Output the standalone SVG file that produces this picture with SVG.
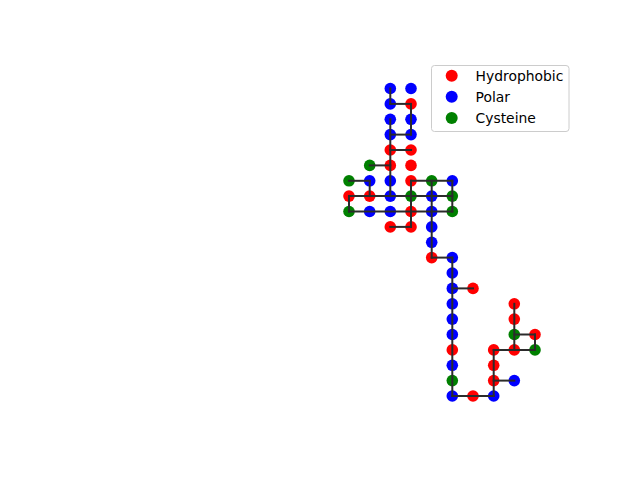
<svg xmlns="http://www.w3.org/2000/svg" width="640" height="480" viewBox="0 0 640 480">
<style>
.h{fill:#ff0000}.p{fill:#0000ff}.c{fill:#008000}
#connectors line{stroke:#2b2b2b;stroke-width:2;stroke-linecap:square}
.lt{font-family:"DejaVu Sans",sans-serif;font-size:13.9px;fill:#000}
</style>
<rect width="640" height="480" fill="#fff"/>
<g id="nodes">
<g id="n1"><circle class="p" cx="390.3" cy="88.5" r="5.8"/></g>
<g id="n2"><circle class="p" cx="411" cy="88.5" r="5.8"/></g>
<g id="n3"><circle class="p" cx="390.3" cy="103.9" r="5.8"/></g>
<g id="n4"><circle class="h" cx="411" cy="103.9" r="5.8"/></g>
<g id="n5"><circle class="p" cx="390.3" cy="119.3" r="5.8"/></g>
<g id="n6"><circle class="p" cx="411" cy="119.3" r="5.8"/></g>
<g id="n7"><circle class="p" cx="390.3" cy="134.6" r="5.8"/></g>
<g id="n8"><circle class="p" cx="411" cy="134.6" r="5.8"/></g>
<g id="n9"><circle class="h" cx="390.3" cy="150" r="5.8"/></g>
<g id="n10"><circle class="h" cx="411" cy="150" r="5.8"/></g>
<g id="n11"><circle class="c" cx="369.7" cy="165.4" r="5.8"/></g>
<g id="n12"><circle class="h" cx="390.3" cy="165.4" r="5.8"/></g>
<g id="n13"><circle class="h" cx="411" cy="165.4" r="5.8"/></g>
<g id="n14"><circle class="c" cx="349" cy="180.8" r="5.8"/></g>
<g id="n15"><circle class="p" cx="369.7" cy="180.8" r="5.8"/></g>
<g id="n16"><circle class="p" cx="390.3" cy="180.8" r="5.8"/></g>
<g id="n17"><circle class="h" cx="411" cy="180.8" r="5.8"/></g>
<g id="n18"><circle class="c" cx="431.7" cy="180.8" r="5.8"/></g>
<g id="n19"><circle class="p" cx="452.3" cy="180.8" r="5.8"/></g>
<g id="n20"><circle class="h" cx="349" cy="196.1" r="5.8"/></g>
<g id="n21"><circle class="h" cx="369.7" cy="196.1" r="5.8"/></g>
<g id="n22"><circle class="p" cx="390.3" cy="196.1" r="5.8"/></g>
<g id="n23"><circle class="c" cx="411" cy="196.1" r="5.8"/></g>
<g id="n24"><circle class="p" cx="431.7" cy="196.1" r="5.8"/></g>
<g id="n25"><circle class="c" cx="452.3" cy="196.1" r="5.8"/></g>
<g id="n26"><circle class="c" cx="349" cy="211.5" r="5.8"/></g>
<g id="n27"><circle class="p" cx="369.7" cy="211.5" r="5.8"/></g>
<g id="n28"><circle class="p" cx="390.3" cy="211.5" r="5.8"/></g>
<g id="n29"><circle class="h" cx="411" cy="211.5" r="5.8"/></g>
<g id="n30"><circle class="p" cx="431.7" cy="211.5" r="5.8"/></g>
<g id="n31"><circle class="c" cx="452.3" cy="211.5" r="5.8"/></g>
<g id="n32"><circle class="h" cx="390.3" cy="226.9" r="5.8"/></g>
<g id="n33"><circle class="h" cx="411" cy="226.9" r="5.8"/></g>
<g id="n34"><circle class="p" cx="431.7" cy="226.9" r="5.8"/></g>
<g id="n35"><circle class="p" cx="431.7" cy="242.3" r="5.8"/></g>
<g id="n36"><circle class="h" cx="431.7" cy="257.6" r="5.8"/></g>
<g id="n37"><circle class="p" cx="452.3" cy="257.6" r="5.8"/></g>
<g id="n38"><circle class="p" cx="452.3" cy="273" r="5.8"/></g>
<g id="n39"><circle class="p" cx="452.3" cy="288.4" r="5.8"/></g>
<g id="n40"><circle class="h" cx="473" cy="288.4" r="5.8"/></g>
<g id="n41"><circle class="p" cx="452.3" cy="303.8" r="5.8"/></g>
<g id="n42"><circle class="h" cx="514.3" cy="303.8" r="5.8"/></g>
<g id="n43"><circle class="p" cx="452.3" cy="319.1" r="5.8"/></g>
<g id="n44"><circle class="h" cx="514.3" cy="319.1" r="5.8"/></g>
<g id="n45"><circle class="p" cx="452.3" cy="334.5" r="5.8"/></g>
<g id="n46"><circle class="c" cx="514.3" cy="334.5" r="5.8"/></g>
<g id="n47"><circle class="h" cx="535" cy="334.5" r="5.8"/></g>
<g id="n48"><circle class="h" cx="452.3" cy="349.9" r="5.8"/></g>
<g id="n49"><circle class="h" cx="493.7" cy="349.9" r="5.8"/></g>
<g id="n50"><circle class="h" cx="514.3" cy="349.9" r="5.8"/></g>
<g id="n51"><circle class="c" cx="535" cy="349.9" r="5.8"/></g>
<g id="n52"><circle class="p" cx="452.3" cy="365.3" r="5.8"/></g>
<g id="n53"><circle class="h" cx="493.7" cy="365.3" r="5.8"/></g>
<g id="n54"><circle class="c" cx="452.3" cy="380.6" r="5.8"/></g>
<g id="n55"><circle class="h" cx="493.7" cy="380.6" r="5.8"/></g>
<g id="n56"><circle class="p" cx="514.3" cy="380.6" r="5.8"/></g>
<g id="n57"><circle class="p" cx="452.3" cy="396" r="5.8"/></g>
<g id="n58"><circle class="h" cx="473" cy="396" r="5.8"/></g>
<g id="n59"><circle class="p" cx="493.7" cy="396" r="5.8"/></g>
</g>
<g id="connectors">
<line x1="390.3" y1="88.5" x2="390.3" y2="103.9"/>
<line x1="390.3" y1="103.9" x2="411" y2="103.9"/>
<line x1="411" y1="103.9" x2="411" y2="134.6"/>
<line x1="411" y1="134.6" x2="390.3" y2="134.6"/>
<line x1="390.3" y1="119.3" x2="390.3" y2="196.1"/>
<line x1="390.3" y1="150" x2="411" y2="150"/>
<line x1="369.7" y1="165.4" x2="390.3" y2="165.4"/>
<line x1="349" y1="180.8" x2="369.7" y2="180.8"/>
<line x1="369.7" y1="180.8" x2="369.7" y2="196.1"/>
<line x1="349" y1="196.1" x2="452.3" y2="196.1"/>
<line x1="349" y1="196.1" x2="349" y2="211.5"/>
<line x1="349" y1="211.5" x2="452.3" y2="211.5"/>
<line x1="411" y1="180.8" x2="452.3" y2="180.8"/>
<line x1="452.3" y1="180.8" x2="452.3" y2="211.5"/>
<line x1="411" y1="180.8" x2="411" y2="226.9"/>
<line x1="390.3" y1="226.9" x2="411" y2="226.9"/>
<line x1="431.7" y1="180.8" x2="431.7" y2="257.6"/>
<line x1="431.7" y1="257.6" x2="452.3" y2="257.6"/>
<line x1="452.3" y1="257.6" x2="452.3" y2="396"/>
<line x1="452.3" y1="288.4" x2="473" y2="288.4"/>
<line x1="452.3" y1="396" x2="493.7" y2="396"/>
<line x1="493.7" y1="396" x2="493.7" y2="349.9"/>
<line x1="493.7" y1="380.6" x2="514.3" y2="380.6"/>
<line x1="493.7" y1="349.9" x2="535" y2="349.9"/>
<line x1="535" y1="349.9" x2="535" y2="334.5"/>
<line x1="535" y1="334.5" x2="514.3" y2="334.5"/>
<line x1="514.3" y1="303.8" x2="514.3" y2="349.9"/>
</g>
<g id="legend">
<rect x="431.5" y="65.5" width="137.5" height="66" rx="3" ry="3" fill="#fff" fill-opacity="0.8" stroke="#cccccc" stroke-width="1"/>
<circle class="h" cx="451.7" cy="75.8" r="6"/>
<text class="lt" x="475.5" y="80.8">Hydrophobic</text>
<circle class="p" cx="451.7" cy="96.8" r="6"/>
<text class="lt" x="475.5" y="101.8">Polar</text>
<circle class="c" cx="451.7" cy="118" r="6"/>
<text class="lt" x="475.5" y="122.8">Cysteine</text>
</g>
</svg>
